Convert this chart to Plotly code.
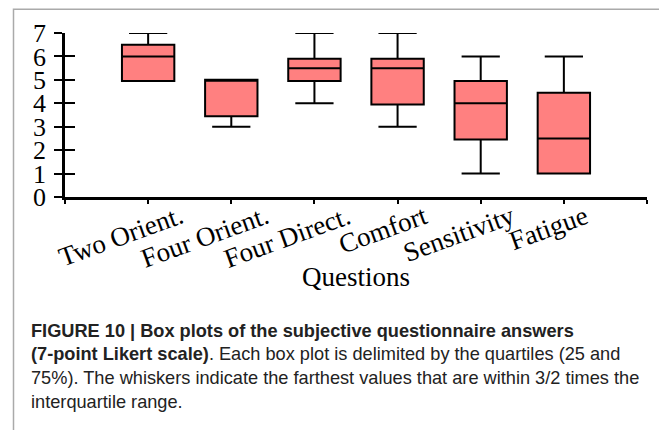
import plotly.graph_objects as go

# ---- data ----
categories = ["Two Orient.", "Four Orient.", "Four Direct.", "Comfort", "Sensitivity", "Fatigue"]
lower_whisker = [4.95, 3.0, 4.0, 3.0, 1.0, 1.0]
q1_values     = [4.95, 3.45, 4.95, 3.95, 2.45, 1.0]
medians       = [6.0, 5.0, 5.5, 5.5, 4.0, 2.5]
q3_values     = [6.5, 5.0, 5.9, 5.9, 4.95, 4.45]
upper_whisker = [7.0, 5.0, 7.0, 7.0, 6.0, 6.0]
y_ticks = [0, 1, 2, 3, 4, 5, 6, 7]
x_title = "Questions"
caption_lines = [
    "<b>FIGURE 10 | Box plots of the subjective questionnaire answers</b>",
    "<b>(7-point Likert scale)</b>. Each box plot is delimited by the quartiles (25 and",
    "75%). The whiskers indicate the farthest values that are within 3/2 times the",
    "interquartile range.",
]

# ---- layout geometry (window pixels; page body has an 8px margin) ----
OFF = 8
W, H = 667, 430
L, R, T, B = 65 - OFF, 647 - OFF, 32.67 - OFF, 196.67 - OFF
PW, PH = R - L, B - T
label_dx = [-27, -27, -27, -15, -22, -15]   # horizontal offset of each rotated tick label

def px(x):
    return (x - OFF - L) / PW

def py(y):
    return (B - (y - OFF)) / PH

positions = list(range(1, len(categories) + 1))

fig = go.Figure()
for i, name in enumerate(categories):
    fig.add_trace(go.Box(
        x=[positions[i]],
        q1=[q1_values[i]], median=[medians[i]], q3=[q3_values[i]],
        lowerfence=[lower_whisker[i]], upperfence=[upper_whisker[i]],
        name=name, width=0.63, whiskerwidth=0.73,
        fillcolor="#FF8080", line=dict(color="black", width=2),
        boxpoints=False, showlegend=False, hoverinfo="skip",
    ))

# invisible trace for the overlay axis (gives ticks crossing the y axis line)
fig.add_trace(go.Scatter(x=[0], y=[0], yaxis="y2", mode="markers",
                         marker=dict(opacity=0), showlegend=False, hoverinfo="skip"))

serif = "Liberation Serif"
fig.update_layout(
    width=W, height=H,
    margin=dict(l=L, r=W - R, t=T, b=H - B, pad=0),
    paper_bgcolor="white", plot_bgcolor="white",
    xaxis=dict(range=[0, 7], tickvals=list(range(0, 8)), showticklabels=False,
               ticks="outside", ticklen=4, tickwidth=1.5, tickcolor="black",
               showline=True, linecolor="black", linewidth=2.5,
               showgrid=False, zeroline=False),
    yaxis=dict(range=[0, 7], tickvals=y_ticks, ticks="outside", ticklen=8, tickwidth=1.5,
               tickcolor="black", showline=True, linecolor="black", linewidth=2.5,
               showgrid=False, zeroline=False, ticklabelstandoff=3,
               tickfont=dict(family=serif, size=26, color="black")),
    yaxis2=dict(range=[0, 7], tickvals=y_ticks, overlaying="y", side="left", anchor="x",
                ticks="inside", ticklen=10, tickwidth=1.5, tickcolor="black",
                showticklabels=False, showline=False, showgrid=False, zeroline=False),
)

annotations = []
for i, name in enumerate(categories):
    annotations.append(dict(
        x=positions[i], xref="x", y=py(197), yref="paper",
        text=name, showarrow=False, textangle=-20, xshift=label_dx[i],
        xanchor="center", yanchor="top",
        font=dict(family=serif, size=27, color="black"),
    ))
annotations.append(dict(
    x=0.5, xref="paper", y=py(277), yref="paper", text=x_title, showarrow=False,
    xanchor="center", yanchor="middle", font=dict(family=serif, size=27, color="black"),
))
caption_y = [331, 354, 378, 402]
for line, yy in zip(caption_lines, caption_y):
    annotations.append(dict(
        x=px(29), xref="paper", y=py(yy), yref="paper", text=line, showarrow=False,
        xanchor="left", yanchor="middle", align="left",
        font=dict(family="Liberation Sans", size=18.2, color="#222222"),
    ))
fig.update_layout(annotations=annotations)

fig.add_shape(type="rect", xref="paper", yref="paper",
              x0=px(13.5), x1=px(665), y0=py(8.8), y1=py(450),
              line=dict(color="#aaaaaa", width=1.5), fillcolor="rgba(0,0,0,0)", layer="above")

fig.write_html("out.html")
